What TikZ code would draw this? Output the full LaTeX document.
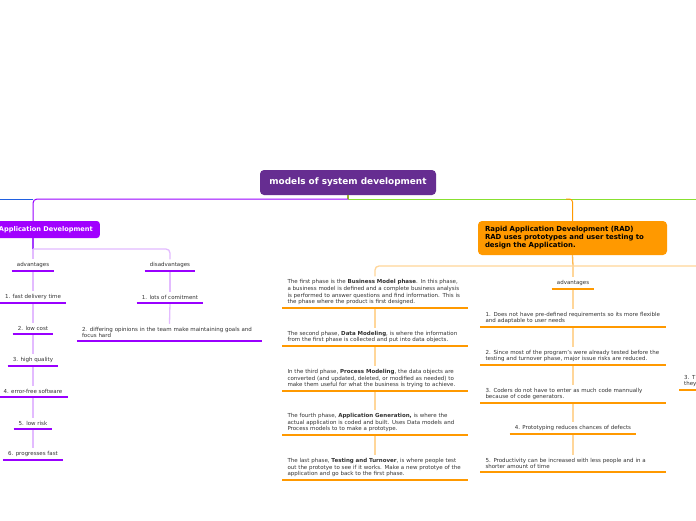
\documentclass[tikz,border=0pt]{standalone}
\usepackage{fontspec}
\setmainfont{DejaVu Sans}
\definecolor{rootc}{HTML}{662D91}
\definecolor{lbc}{HTML}{A100FF}
\definecolor{pu}{HTML}{9900FF}
\definecolor{pumid}{HTML}{A43BFF}
\definecolor{pulight}{HTML}{E3BBFF}
\definecolor{orng}{HTML}{FF9900}
\definecolor{ormid}{HTML}{FFB84D}
\definecolor{orlight}{HTML}{FFD699}
\definecolor{grn}{HTML}{88E030}
\definecolor{blu}{HTML}{2060E0}
\definecolor{oliv}{HTML}{99B030}
\definecolor{txt}{HTML}{333333}
\tikzset{
  itm/.style={font=\fontsize{5.5}{6.6}\selectfont, text=txt, inner xsep=5pt, inner ysep=3pt, anchor=south},
  itmw/.style={itm, text width=175pt, align=left},
  pul/.style={line width=2.2pt, draw=pu},
  oul/.style={line width=2.2pt, draw=orng},
  plink/.style={draw=pulight, line width=1.3pt},
  olink/.style={draw=orlight, line width=1.3pt},
  rootbox/.style={fill=rootc, rounded corners=4pt, text=white, font=\fontsize{8.9}{10}\selectfont\bfseries, minimum width=176pt, minimum height=25pt, inner sep=0pt},
  lbox/.style={fill=lbc, rounded corners=3pt, text=white, font=\fontsize{6.6}{8}\selectfont\bfseries, minimum height=17pt, inner ysep=0pt, inner xsep=7pt},
  radbox/.style={fill=orng, rounded corners=4pt, text=black, font=\fontsize{6.95}{8}\selectfont\bfseries, text width=175pt, align=left, minimum height=34pt, inner xsep=7pt, inner ysep=0pt},
}
\begin{document}
\begin{tikzpicture}[x=1pt,y=-1pt]
\useasboundingbox (0,0) rectangle (696,520);
\fill[white] (0,0) rectangle (696,520);

% nodes
\node[rootbox] (root) at (348,182.5) {models of system development};
\node[lbox, anchor=east] (lb) at (100,229.5) {Application Development};
\node[radbox] (rad) at (572.5,238) {Rapid Application Development (RAD)\\RAD uses prototypes and user testing to\\design the Application.};

% left column
\node[itm] (ladv) at (33,271) {advantages};
\node[itm] (f1) at (33,303) {1. fast delivery time};
\node[itm] (f2) at (33,334) {2. low cost};
\node[itm] (f3) at (33,366) {3. high quality};
\node[itm] (f4) at (33,397) {4. error-free software};
\node[itm] (f5) at (33,429) {5. low risk};
\node[itm] (f6) at (33,460) {6. progresses fast};

\node[itm] (ldis) at (170,271) {disadvantages};
\node[itm] (d1) at (170,303) {1. lots of comitment};
\node[itmw] (d2) at (169.5,341) {2. differing opinions in the team make maintaining goals and\\focus hard};

% middle column
\node[itmw] (m1) at (375,308) {The first phase is the \textbf{Business Model phase}. In this phase,\\a business model is defined and a complete business analysis\\is performed to answer questions and find information. This is\\the phase where the product is first designed.};
\node[itmw] (m2) at (375,346) {The second phase, \textbf{Data Modeling}, is where the information\\from the first phase is collected and put into data objects.};
\node[itmw] (m3) at (375,391) {In the third phase, \textbf{Process Modeling}, the data objects are\\converted (and updated, deleted, or modified as needed) to\\make them useful for what the business is trying to achieve.};
\node[itmw] (m4) at (375,435) {The fourth phase, \textbf{Application Generation,} is where the\\actual application is coded and built. Uses Data models and\\Process models to to make a prototype.};
\node[itmw] (m5) at (375,480) {The last phase, \textbf{Testing and Turnover}, is where people test\\out the prototye to see if it works. Make a new prototye of the\\application and go back to the first phase.};

% right column
\node[itm] (radv) at (573,289) {advantages};
\node[itmw] (r1) at (573,327) {1. Does not have pre-defined requirements so its more flexible\\and adaptable to user needs};
\node[itmw] (r2) at (573,365) {2. Since most of the program's were already tested before the\\testing and turnover phase, major issue risks are reduced.};
\node[itmw] (r3) at (573,403) {3. Coders do not have to enter as much code mannually\\because of code generators.};
\node[itm] (r4) at (573,434) {4. Prototyping reduces chances of defects};
\node[itmw] (r5) at (573,472) {5. Productivity can be increased with less people and in a\\shorter amount of time};

% far right partial
\node[itmw, anchor=south west] (x3) at (679,390) {3. Th\\they};

% coordinates
\coordinate (hub) at (348,199);
\coordinate (offL) at (-5,199);
\coordinate (offR) at (701,199);
\coordinate (gsplit) at (566,199);
\coordinate (lsplit) at (33,249);
\coordinate (rjoin) at (573,266);
\coordinate (offR2) at (701,266);

% main connectors
\draw[oliv, line width=1.5pt] (root.south) -- (hub);
\draw[grn, line width=1pt] (hub) -- (offR);
\draw[pu, line width=1pt, rounded corners=4pt] (hub) -| (lb.north -| ladv);
\draw[blu, line width=1pt] (ladv |- hub) -- (offL);
\draw[orng, line width=1pt, rounded corners=3pt] (gsplit) -| (rad.north);

% left branch
\draw[pumid, line width=1.3pt] (lb.south -| ladv) -- (lsplit);
\draw[plink] (lsplit) -- (ladv.north);
\draw[plink, rounded corners=4pt] (lsplit) -| (ldis.north);
\foreach \a/\b in {ladv/f1,f1/f2,f2/f3,f3/f4,f4/f5,f5/f6,ldis/d1,d1/d2}
  \draw[plink] (\a.south) -- (\b.north);

% right branch
\draw[ormid, line width=1.3pt] (rad.south) -- (rjoin);
\draw[olink, rounded corners=4pt] (offR2) -| (m1.north);
\draw[olink] (rjoin) -- (radv.north);
\foreach \a/\b in {m1/m2,m2/m3,m3/m4,m4/m5,radv/r1,r1/r2,r2/r3,r3/r4,r4/r5}
  \draw[olink] (\a.south) -- (\b.north);

% underlines
\foreach \n in {ladv,f1,f2,f3,f4,f5,f6,ldis,d1,d2}
  \draw[pul] (\n.south west) -- (\n.south east);
\foreach \n in {m1,m2,m3,m4,m5,radv,r1,r2,r3,r4,r5,x3}
  \draw[oul] (\n.south west) -- (\n.south east);
\end{tikzpicture}
\end{document}
